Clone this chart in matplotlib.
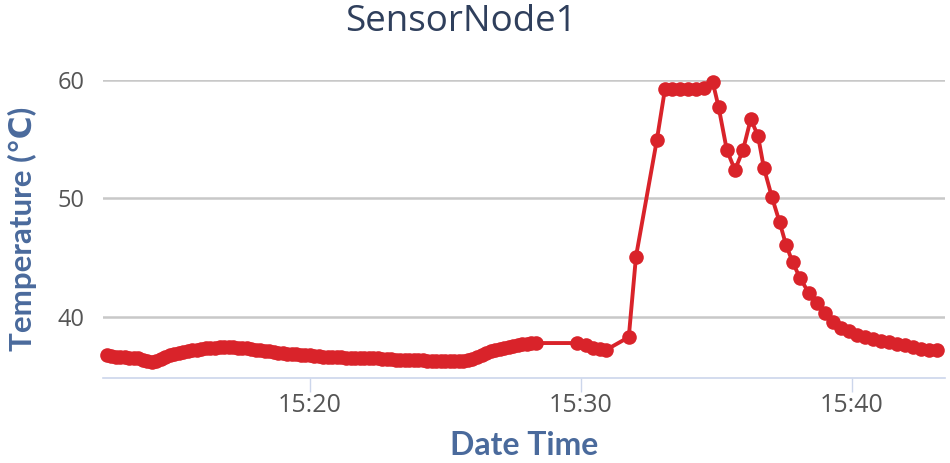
import pandas as pd
import matplotlib
matplotlib.use("Agg")
import matplotlib.pyplot as plt
import matplotlib.dates as mdates

# --------------------------------------------------------------
# Data (time of day, temperature in degC)
# --------------------------------------------------------------
# slow part, one reading every 10 s from 15:12:30 to 15:28:20
slow_start = "15:12:30"
slow_temps = [
    36.8, 36.7, 36.65, 36.6, 36.6, 36.55, 36.55, 36.5, 36.4, 36.3,
    36.2, 36.3, 36.45, 36.6, 36.75, 36.85, 37.0, 37.05, 37.15, 37.2,
    37.25, 37.3, 37.35, 37.4, 37.4, 37.45, 37.45, 37.45, 37.45, 37.4,
    37.4, 37.35, 37.3, 37.25, 37.2, 37.15, 37.1, 37.05, 37.0, 36.95,
    36.9, 36.9, 36.85, 36.8, 36.8, 36.75, 36.7, 36.7, 36.65, 36.65,
    36.6, 36.6, 36.6, 36.55, 36.55, 36.5, 36.5, 36.5, 36.5, 36.5,
    36.5, 36.45, 36.45, 36.45, 36.4, 36.4, 36.4, 36.4, 36.35, 36.35,
    36.35, 36.3, 36.3, 36.3, 36.25, 36.25, 36.25, 36.25, 36.3, 36.3,
    36.35, 36.45, 36.6, 36.8, 36.95, 37.1, 37.2, 37.3, 37.4, 37.5,
    37.55, 37.6, 37.7, 37.75, 37.8, 37.8,
]
# event part, irregular readings
event_times = [
    "15:29:51", "15:30:11", "15:30:26", "15:30:42", "15:30:55",
    "15:31:46", "15:32:02", "15:32:48",
    "15:33:06", "15:33:22", "15:33:39", "15:33:57", "15:34:14", "15:34:32",
    "15:34:52", "15:35:05", "15:35:23", "15:35:41", "15:35:59", "15:36:16",
    "15:36:32", "15:36:45", "15:37:03", "15:37:20", "15:37:34", "15:37:49",
    "15:38:05", "15:38:25", "15:38:42", "15:39:00", "15:39:18", "15:39:36",
    "15:39:53", "15:40:11", "15:40:29", "15:40:46", "15:41:04", "15:41:22",
    "15:41:40", "15:41:57", "15:42:15", "15:42:33", "15:42:50", "15:43:08",
]
event_temps = [
    37.8, 37.6, 37.4, 37.3, 37.2,
    38.3, 45.1, 54.9,
    59.2, 59.2, 59.2, 59.2, 59.2, 59.3,
    59.8, 57.7, 54.1, 52.4, 54.1, 56.7,
    55.3, 52.6, 50.1, 48.0, 46.1, 44.6,
    43.3, 42.0, 41.2, 40.3, 39.6, 39.1,
    38.8, 38.5, 38.3, 38.1, 38.0, 37.9,
    37.7, 37.6, 37.5, 37.3, 37.2, 37.2,
]
y_ticks = [40, 50, 60]
x_range = ("15:12:22", "15:43:26")
day = "2020-01-01 "

slow = pd.DataFrame({
    "time": pd.date_range(day + slow_start, periods=len(slow_temps), freq="10s"),
    "temp": slow_temps})
event = pd.DataFrame({
    "time": pd.to_datetime([day + t for t in event_times]),
    "temp": event_temps})
df = pd.concat([slow, event], ignore_index=True)

# --------------------------------------------------------------
# Plot
# --------------------------------------------------------------
fig = plt.figure(figsize=(9.5, 4.63), dpi=100)
ax = fig.add_axes([0.1084, 0.1836, 0.8863, 0.6436])

ax.plot(df["time"], df["temp"], color="#d9232a", lw=2.8, marker="o",
        markersize=10.5, markeredgewidth=0, clip_on=False, zorder=3)

ax.set_xlim(pd.to_datetime(day + x_range[0]), pd.to_datetime(day + x_range[1]))
ax.set_ylim(34.85, 60)
ax.set_yticks(y_ticks)
ax.xaxis.set_major_locator(mdates.MinuteLocator(byminute=[20, 30, 40]))
ax.xaxis.set_major_formatter(mdates.DateFormatter("%H:%M"))

ax.grid(axis="y", color="#c8c8c8", lw=1.8)
ax.set_axisbelow(True)
for side in ["top", "right", "left"]:
    ax.spines[side].set_visible(False)
ax.spines["bottom"].set_color("#ccd6eb")
ax.spines["bottom"].set_linewidth(1.2)

ax.tick_params(axis="y", length=0, pad=13, labelsize=17, labelcolor="#555555")
ax.tick_params(axis="x", length=10, width=1, color="#ccd6eb", pad=1,
               labelsize=18, labelcolor="#555555")
for lab in ax.get_xticklabels() + ax.get_yticklabels():
    lab.set_family("Open Sans")

fig.text(0.485, 0.952, "SensorNode1", fontsize=26.5, color="#2f3f5c",
         family="Open Sans", ha="center", va="center")
ax.set_xlabel("Date Time", fontsize=23, fontweight="bold", color="#4a6a9c",
              family=["Lato", "DejaVu Sans"], labelpad=9)
ax.set_ylabel("Temperature (℃)", fontsize=22.5, fontweight="bold", color="#4a6a9c",
              family=["Lato", "DejaVu Sans"], labelpad=15)

fig.savefig("out.png", dpi=100)
